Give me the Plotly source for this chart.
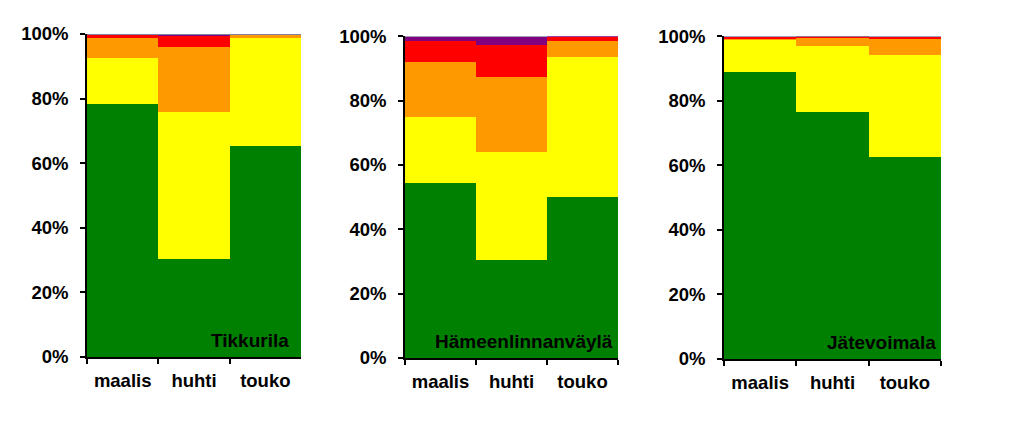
import plotly.graph_objects as go

months = ["maalis", "huhti", "touko"]
panels = ["Tikkurila", "Hämeenlinnanväylä", "Jätevoimala"]
colors = ["#008000", "#FFFF00", "#FF9900", "#FF0000", "#800080", "#8080A0"]
ytickvals = [0, 20, 40, 60, 80, 100]
yticktext = ["0%", "20%", "40%", "60%", "80%", "100%"]

# bottom -> top: green, yellow, orange, red, purple, grey
tikkurila = [
    [78.3, 30.3, 65.3],
    [14.3, 45.6, 33.5],
    [6.2, 20.1, 0.9],
    [0.9, 3.4, 0.0],
    [0.0, 0.3, 0.0],
    [0.3, 0.3, 0.3],
]
hameenlinnanvayla = [
    [54.3, 30.4, 50.0],
    [20.5, 33.6, 43.5],
    [17.1, 23.3, 4.9],
    [6.6, 9.9, 1.3],
    [1.2, 2.5, 0.3],
    [0.3, 0.3, 0.0],
]
jatevoimala = [
    [88.9, 76.5, 62.5],
    [9.9, 20.4, 31.6],
    [0.3, 2.5, 5.2],
    [0.6, 0.3, 0.4],
    [0.0, 0.0, 0.0],
    [0.3, 0.3, 0.3],
]
datasets = [tikkurila, hameenlinnanvayla, jatevoimala]

xdomains = [(0.0780, 0.2892), (0.3919, 0.6022), (0.7068, 0.9210)]
ydomains = [(0.1749, 0.9385), (0.1726, 0.9331), (0.1702, 0.9331)]
label_shift = [-10, -3, -3]

FONT = "Liberation Sans, Arial, sans-serif"
fig = go.Figure()
layout = dict(
    width=1013, height=423,
    margin=dict(l=0, r=0, t=0, b=0, autoexpand=False),
    paper_bgcolor="white", plot_bgcolor="white",
    barmode="stack", bargap=0, showlegend=False,
    font=dict(family=FONT, size=18, color="black"),
    annotations=[],
)

for i, data in enumerate(datasets):
    sx = "" if i == 0 else str(i + 1)
    for s, vals in enumerate(data):
        fig.add_trace(go.Bar(
            x=months, y=vals, xaxis="x" + sx, yaxis="y" + sx,
            marker=dict(color=colors[s], line=dict(width=0)),
            hoverinfo="skip",
        ))
    layout["xaxis" + sx] = dict(
        domain=list(xdomains[i]), anchor="y" + sx, automargin=False,
        showline=True, linecolor="black", linewidth=1.5,
        ticks="outside", ticklen=5, tickwidth=1.5, tickcolor="black",
        tickson="boundaries", showgrid=False, ticklabelstandoff=6,
        tickfont=dict(family=FONT, size=18.5, color="black", weight="bold"),
        fixedrange=True,
    )
    layout["yaxis" + sx] = dict(
        domain=list(ydomains[i]), anchor="x" + sx, automargin=False,
        range=[0, 100], tickmode="array", tickvals=ytickvals, ticktext=yticktext,
        showline=True, linecolor="black", linewidth=1.5,
        ticks="outside", ticklen=5, tickwidth=1.5, tickcolor="black",
        showgrid=False, zeroline=False, ticklabelstandoff=8,
        tickfont=dict(family=FONT, size=18.5, color="black", weight="bold"),
        fixedrange=True,
    )
    layout["annotations"].append(dict(
        text="<b>%s</b>" % panels[i],
        xref=("x" + sx) + " domain", yref=("y" + sx) + " domain",
        x=1, y=0, xanchor="right", yanchor="bottom",
        xshift=label_shift[i], yshift=4, showarrow=False,
        font=dict(family=FONT, size=19, color="black"),
    ))

fig.update_layout(**layout)
fig.write_html("out.html")
